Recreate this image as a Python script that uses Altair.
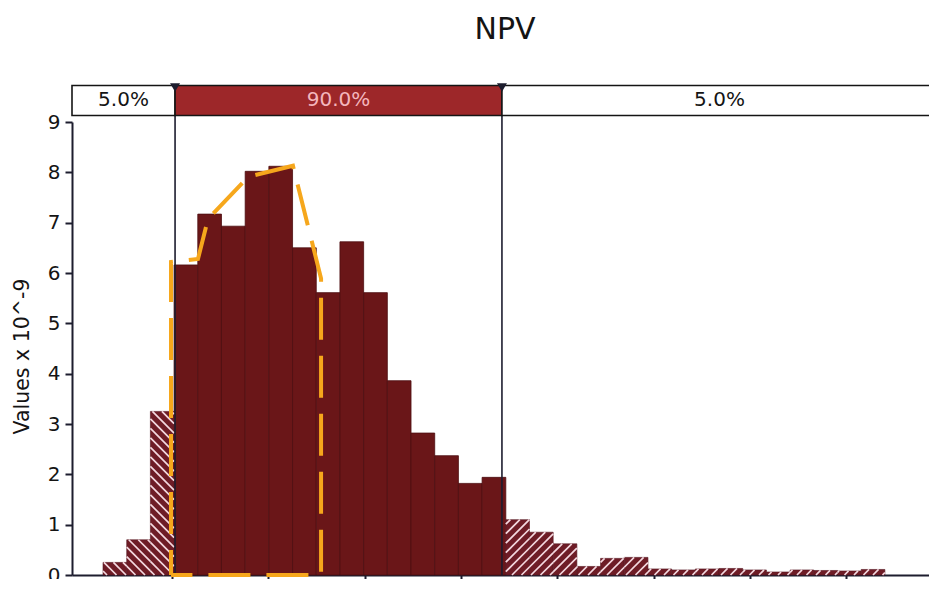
import altair as alt
import pandas as pd

# ---------------- data ----------------
# histogram of NPV: regular bins, density values are "x 10^-9"
BIN_START = -35.8          # left edge of the first bin
BIN_WIDTH = 12.3           # width of every bin
DENSITY = [0.25, 0.70, 3.25, 6.16, 7.17, 6.93, 8.02, 8.12, 6.50, 5.61, 6.62, 5.61,
           3.86, 2.82, 2.37, 1.82, 1.94,
           1.10, 0.85, 0.62, 0.17, 0.33, 0.35,
           0.12, 0.10, 0.12, 0.13, 0.10, 0.06, 0.10, 0.09, 0.08, 0.11]

# percentile delimiters and band labels
P5 = 1.6
P95 = 171.3
BAND_LABELS = ["5.0%", "90.0%", "5.0%"]

# fitted / comparison outline (orange dashed)
FIT_X = [-0.5, -0.5, 13.5, 18.7, 39.5, 62.8, 77.4, 77.4, -0.5]
FIT_Y = [0.0, 6.22, 6.28, 7.07, 7.91, 8.13, 5.89, 0.0, 0.0]

X_TICKS = [0, 50, 100, 150, 200, 250, 300, 350]
Y_TICKS = list(range(10))

# ---------------- layout / style ----------------
X_MIN, X_MAX = -51.9, 393.0
BAND_END = 397.2           # right end of the percentile band (beyond the visible frame)
Y_MIN, Y_MAX = 0, 9
W, H = 857, 453
BAND_LO, BAND_HI = 9.13, 9.726
TRI_Y = 9.686

FONT = "DejaVu Sans"
AXIS_COL = "#1d1d2e"
BODY_COL = "#6a1618"
TAIL_COL = "#6e1c26"
BAND_RED = "#9d2729"
FIT_COL = "#f6a71c"

kx = W / (X_MAX - X_MIN)
ky = H / (Y_MAX - Y_MIN)

# ---------------- tables ----------------
rows = []
for i, d in enumerate(DENSITY):
    x0 = BIN_START + i * BIN_WIDTH
    x1 = x0 + BIN_WIDTH
    mid = (x0 + x1) / 2
    part = "left" if mid < P5 else ("right" if mid > P95 else "body")
    rows.append({"x0": x0, "x1": x1, "d": d, "part": part})
bins = pd.DataFrame(rows)

# hatch segments, computed in screen space and mapped back to data units
SPACING = 9.5
hatch = []
for r in rows:
    if r["part"] == "body":
        continue
    sx0 = (r["x0"] - X_MIN) * kx
    sx1 = (r["x1"] - X_MIN) * kx
    sya = (Y_MAX - r["d"]) * ky
    syb = (Y_MAX - 0) * ky
    if r["part"] == "left":   # "\" stripes: sy = sx + c
        kmin = int((sya - sx1) // SPACING) - 1
        kmax = int((syb - sx0) // SPACING) + 1
        for k in range(kmin, kmax + 1):
            c = k * SPACING
            a = max(sx0, sya - c)
            b = min(sx1, syb - c)
            if b - a > 0.3:
                hatch.append({"xa": X_MIN + a / kx, "ya": Y_MAX - (a + c) / ky,
                              "xb": X_MIN + b / kx, "yb": Y_MAX - (b + c) / ky})
    else:                      # "/" stripes: sy = -sx + c
        kmin = int((sx0 + sya) // SPACING) - 1
        kmax = int((sx1 + syb) // SPACING) + 1
        for k in range(kmin, kmax + 1):
            c = k * SPACING
            a = max(sx0, c - syb)
            b = min(sx1, c - sya)
            if b - a > 0.3:
                hatch.append({"xa": X_MIN + a / kx, "ya": Y_MAX - (c - a) / ky,
                              "xb": X_MIN + b / kx, "yb": Y_MAX - (c - b) / ky})
hatch = pd.DataFrame(hatch)

fit = pd.DataFrame({"x": FIT_X, "y": FIT_Y, "o": list(range(len(FIT_X)))})

band_edges = [X_MIN, P5, P95, BAND_END + 20]
band = pd.DataFrame({
    "b0": band_edges[:-1], "b1": band_edges[1:],
    "lab": BAND_LABELS,
    "mid": [(X_MIN + P5) / 2, (P5 + P95) / 2, (P95 + BAND_END) / 2],
    "fill": ["white", BAND_RED, "white"],
    "tcol": ["#141414", "#f4b6bd", "#141414"],
    "lo": [BAND_LO] * 3, "hi": [BAND_HI] * 3,
})
pct = pd.DataFrame({"x": [P5, P95], "y0": [0, 0], "y1": [BAND_HI, BAND_HI], "t": [TRI_Y, TRI_Y]})
title_df = pd.DataFrame({"t": ["NPV"]})

xs = alt.Scale(domain=[X_MIN, X_MAX], nice=False, zero=False)
ys = alt.Scale(domain=[Y_MIN, Y_MAX], nice=False, zero=False)

x_axis = alt.Axis(values=X_TICKS, labels=False, title=None, grid=False, ticks=True,
                  tickSize=5, tickWidth=2, tickColor=AXIS_COL, domainColor=AXIS_COL,
                  domainWidth=2)
y_axis = alt.Axis(values=Y_TICKS, grid=False, title="Values x 10^-9", tickSize=7,
                  tickWidth=2, tickColor=AXIS_COL, domainColor=AXIS_COL, domainWidth=2,
                  labelFont=FONT, labelFontSize=20, labelColor="#141414", labelPadding=5,
                  titleFont=FONT, titleFontSize=20.5, titleFontWeight="normal",
                  titleColor="#141414", titleX=-50, titleY=234, titleAngle=270,
                  titleAlign="center", titleBaseline="middle")

body = alt.Chart(bins).transform_filter(alt.datum.part == "body").mark_rect(
    fill=BODY_COL, stroke="#4c0e10", strokeWidth=0.8
).encode(
    x=alt.X("x0:Q", scale=xs, axis=x_axis),
    x2="x1:Q",
    y=alt.Y("d:Q", scale=ys, axis=y_axis),
    y2=alt.datum(0),
)

tails = alt.Chart(bins).transform_filter(alt.datum.part != "body").mark_rect(
    fill=TAIL_COL, stroke="#551520", strokeWidth=0.6
).encode(x="x0:Q", x2="x1:Q", y="d:Q", y2=alt.datum(0))

hatch_layer = alt.Chart(hatch).mark_rule(color="#f4d9e0", strokeWidth=1.7).encode(
    x="xa:Q", y="ya:Q", x2="xb:Q", y2="yb:Q")

pct_rules = alt.Chart(pct).mark_rule(color=AXIS_COL, strokeWidth=1.6).encode(
    x="x:Q", y="y0:Q", y2="y1:Q")

fit_line = alt.Chart(fit).mark_line(color=FIT_COL, strokeWidth=4, strokeDash=[42, 16],
                                    strokeDashOffset=17, strokeCap="butt").encode(
    x="x:Q", y="y:Q", order="o:Q")

band_rects = alt.Chart(band).mark_rect(stroke="#141414", strokeWidth=1.6).encode(
    x="b0:Q", x2="b1:Q", y="lo:Q", y2="hi:Q",
    fill=alt.Fill("fill:N", scale=None))

band_text = alt.Chart(band).mark_text(font=FONT, fontSize=20, baseline="middle").encode(
    x="mid:Q", y=alt.datum((BAND_LO + BAND_HI) / 2), text="lab:N",
    color=alt.Color("tcol:N", scale=None))

tris = alt.Chart(pct).mark_point(shape="triangle-down", filled=True, size=100,
                                 color=AXIS_COL, opacity=1).encode(x="x:Q", y="t:Q")

title = alt.Chart(title_df).mark_text(font=FONT, fontSize=30, color="#141414",
                                      baseline="middle", align="center").encode(
    x=alt.value(433), y=alt.value(-92), text="t:N")

chart = alt.layer(body, tails, hatch_layer, pct_rules, fit_line, band_rects, band_text,
                  tris, title).properties(
    width=W, height=H,
    padding={"left": 64, "top": 114, "right": 0, "bottom": 4},
    autosize=alt.AutoSizeParams(type="none"),
    background="white",
).configure_view(stroke=None)

chart.save("out.html", embed_options={"renderer": "svg", "actions": False})
